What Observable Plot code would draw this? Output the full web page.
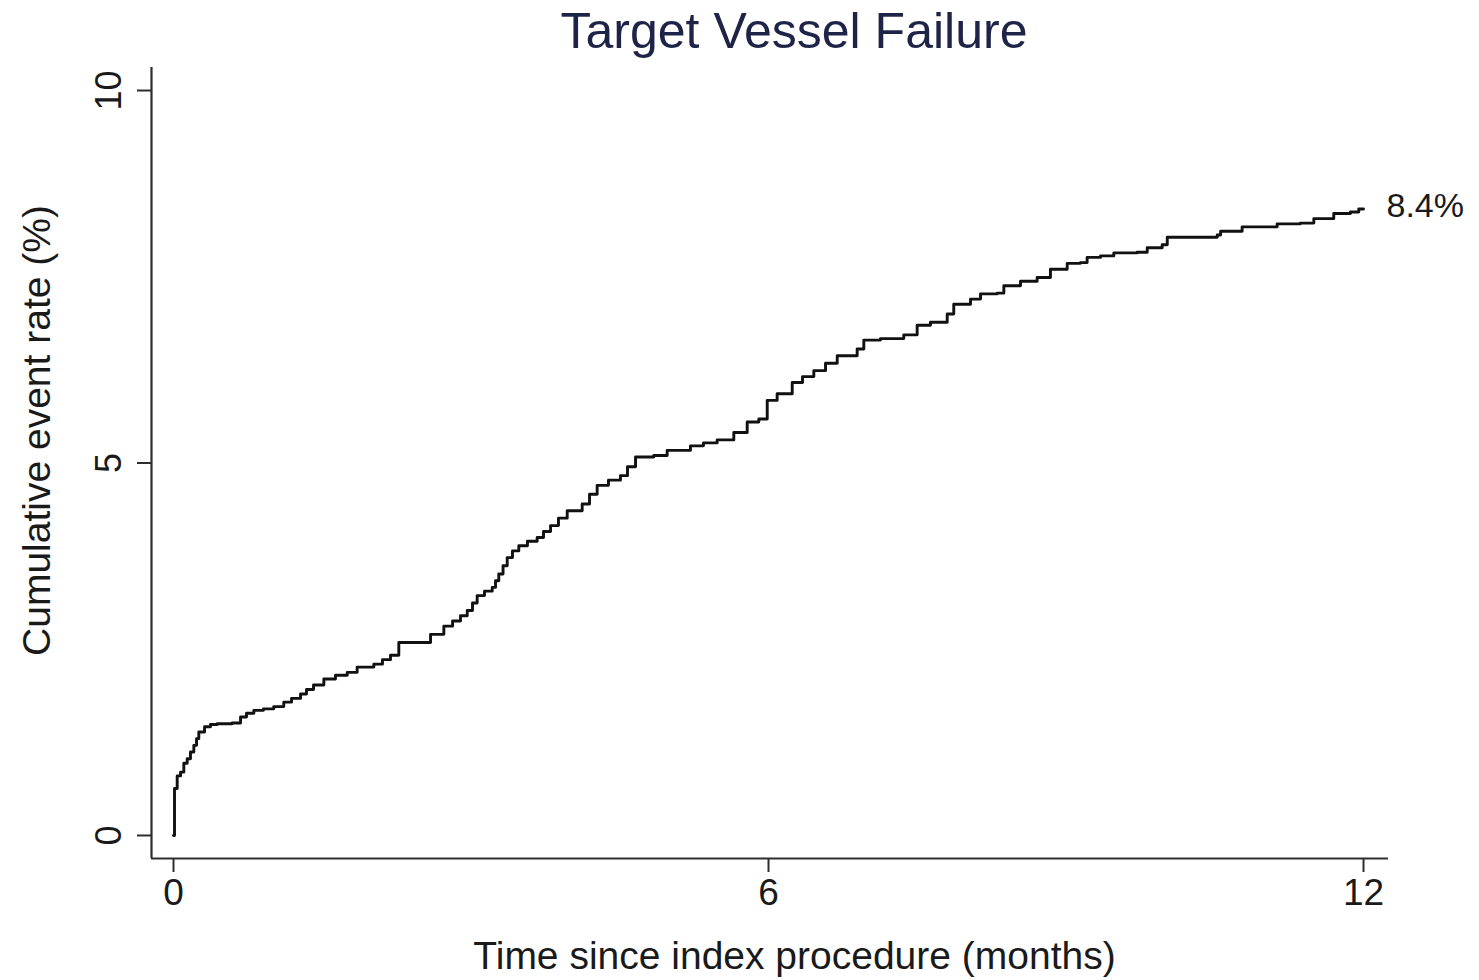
<!DOCTYPE html>
<html><head><meta charset="utf-8">
<script src="https://cdn.jsdelivr.net/npm/d3@7"></script>
<script src="https://cdn.jsdelivr.net/npm/@observablehq/plot@0.6"></script>
<style>
html,body{margin:0;padding:0;background:#fff;}
body{width:1479px;height:980px;overflow:hidden;font-family:"Liberation Sans",Arial,sans-serif;}
#title{height:62px;line-height:62px;font-size:50px;color:#1e2348;padding-left:109px;width:1370px;text-align:center;white-space:nowrap;}
</style></head><body>
<div id="title"></div>
<div id="chart"></div>
<script>
const title = "Target Vessel Failure";
const xLabel = "Time since index procedure (months)";
const yLabel = "Cumulative event rate (%)";
const xTicks = [0, 6, 12];
const yTicks = [0, 5, 10];
const xDomain = [-0.222, 12.252];
const yDomain = [-0.309, 10.309];

const months = [0, 0.010, 0.037, 0.071, 0.104, 0.138, 0.171, 0.205, 0.232, 0.255, 0.313, 0.373, 0.441, 0.592, 0.676, 0.736, 0.810, 0.907, 1.011, 1.112, 1.190, 1.281, 1.341, 1.412, 1.516, 1.633, 1.752, 1.852, 2.020, 2.107, 2.188, 2.272, 2.474, 2.592, 2.726, 2.814, 2.894, 2.962, 3.015, 3.062, 3.136, 3.214, 3.247, 3.280, 3.323, 3.365, 3.418, 3.482, 3.569, 3.667, 3.731, 3.802, 3.882, 3.970, 4.121, 4.195, 4.272, 4.386, 4.507, 4.578, 4.659, 4.843, 4.978, 5.213, 5.344, 5.482, 5.650, 5.785, 5.902, 5.987, 6.087, 6.239, 6.343, 6.457, 6.575, 6.693, 6.894, 6.961, 7.129, 7.364, 7.499, 7.633, 7.802, 7.868, 8.037, 8.138, 8.306, 8.373, 8.541, 8.709, 8.843, 9.012, 9.146, 9.213, 9.348, 9.482, 9.718, 9.819, 9.970, 10.021, 10.525, 10.559, 10.776, 11.129, 11.364, 11.499, 11.700, 11.868, 11.952, 12.0];
const rates = [0, 0.63, 0.80, 0.85, 0.97, 1.03, 1.12, 1.21, 1.30, 1.39, 1.46, 1.49, 1.50, 1.51, 1.59, 1.64, 1.68, 1.70, 1.73, 1.79, 1.84, 1.90, 1.96, 2.02, 2.10, 2.15, 2.19, 2.26, 2.30, 2.36, 2.42, 2.59, 2.59, 2.70, 2.81, 2.88, 2.95, 3.02, 3.12, 3.22, 3.28, 3.33, 3.42, 3.51, 3.62, 3.73, 3.82, 3.89, 3.95, 4.00, 4.08, 4.16, 4.26, 4.36, 4.45, 4.58, 4.70, 4.77, 4.83, 4.95, 5.08, 5.10, 5.17, 5.23, 5.27, 5.31, 5.41, 5.55, 5.59, 5.84, 5.93, 6.08, 6.16, 6.24, 6.34, 6.44, 6.53, 6.65, 6.67, 6.72, 6.85, 6.89, 7.00, 7.13, 7.20, 7.27, 7.28, 7.38, 7.44, 7.49, 7.60, 7.68, 7.69, 7.76, 7.78, 7.82, 7.83, 7.89, 7.93, 8.03, 8.06, 8.11, 8.17, 8.21, 8.22, 8.28, 8.35, 8.37, 8.41, 8.41];

document.getElementById("title").textContent = title;

const data = months.map((m, i) => ({m, r: rates[i]}));
const last = data[data.length - 1];
const axisColor = "#2e2e2e";
const textColor = "#1a1a1a";

const plot = Plot.plot({
  width: 1479,
  height: 918,
  marginLeft: 151,
  marginRight: 91,
  marginTop: 5,
  marginBottom: 122,
  x: {domain: xDomain},
  y: {domain: yDomain},
  style: {fontFamily: '"Liberation Sans", Arial, sans-serif', background: "#fff", color: textColor, overflow: "visible"},
  marks: [
    Plot.ruleX([xDomain[0]], {y1: yDomain[0], y2: yDomain[1], stroke: axisColor, strokeWidth: 2.2}),
    Plot.ruleY([yDomain[0]], {x1: xDomain[0], x2: xDomain[1], stroke: axisColor, strokeWidth: 2.2}),
    Plot.axisX({ticks: xTicks, tickSize: 14, tickPadding: 6, fontSize: 37, label: null, stroke: axisColor, strokeWidth: 2, fill: textColor}),
    Plot.axisY({ticks: yTicks, tickSize: 14, tickPadding: 17, tickRotate: -90, fontSize: 36, label: null, stroke: axisColor, strokeWidth: 2, fill: textColor}),
    Plot.line(data, {x: "m", y: "r", curve: "step-after", stroke: "#111", strokeWidth: 2.9, strokeLinejoin: "round"}),
    Plot.text([last], {x: "m", y: "r", text: d => `${d.r.toFixed(1)}%`, textAnchor: "start", lineAnchor: "middle", dx: 23, dy: -3, fontSize: 34, fill: textColor}),
    Plot.text([xLabel], {text: d => d, frameAnchor: "bottom", textAnchor: "middle", lineAnchor: "bottom", dx: 24.5, dy: 110, fontSize: 39, fill: textColor}),
    Plot.text([yLabel], {text: d => d, frameAnchor: "left", textAnchor: "middle", lineAnchor: "middle", rotate: -90, dx: -113.5, dy: -32.5, fontSize: 39, fill: textColor})
  ]
});
document.getElementById("chart").appendChild(plot);
</script>
</body></html>
